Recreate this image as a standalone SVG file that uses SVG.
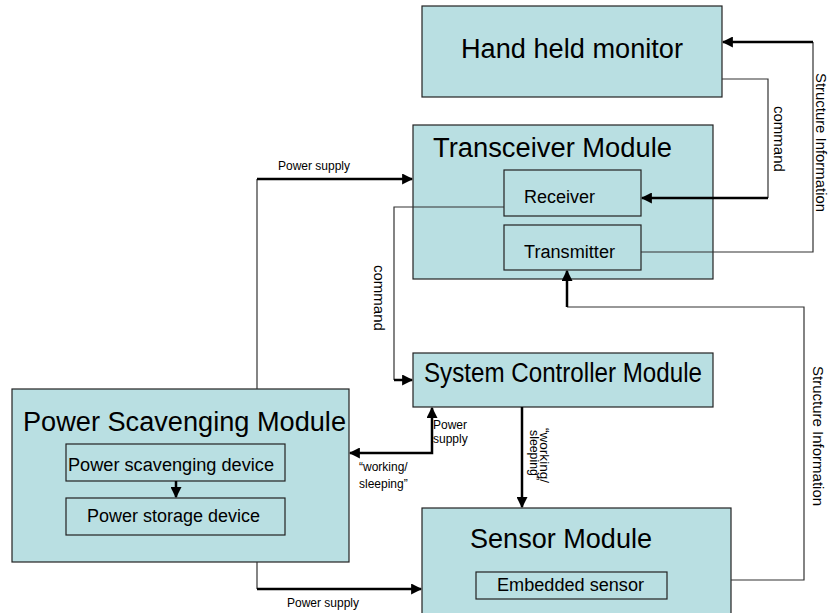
<svg xmlns="http://www.w3.org/2000/svg" width="830" height="613" viewBox="0 0 830 613">
  <style>
    .box { fill: #b9dfe2; stroke: #222; stroke-width: 1.2; }
    .sub { fill: #b9dfe2; stroke: #222; stroke-width: 1.2; }
    .big { font-family: "Liberation Sans", Arial, sans-serif; font-size: 27px; fill: #000; }
    .mid { font-family: "Liberation Sans", Arial, sans-serif; font-size: 18px; fill: #000; }
    .lbl { font-family: "Liberation Sans", Arial, sans-serif; font-size: 12px; fill: #000; }
    .rot { font-family: "Liberation Sans", Arial, sans-serif; font-size: 15px; fill: #000; }
    .thin { fill: none; stroke: #333; stroke-width: 1.2; }
    .thick { fill: none; stroke: #000; stroke-width: 2.5; }
  </style>
  <defs>
    <marker id="arrow" viewBox="0 0 10 10" refX="9" refY="5" markerWidth="4.4" markerHeight="4.4" markerUnits="strokeWidth" orient="auto-start-reverse">
      <path d="M0,0 L10,5 L0,10 z" fill="#000"/>
    </marker>
  </defs>

  <!-- modules -->
  <g id="hand-held-monitor">
    <rect class="box" x="422" y="6" width="300" height="91"/>
    <text class="big" x="461" y="58" textLength="222" lengthAdjust="spacingAndGlyphs">Hand held monitor</text>
  </g>

  <g id="transceiver-module">
    <rect class="box" x="413" y="125" width="300" height="154"/>
    <text class="big" x="433" y="157" textLength="239" lengthAdjust="spacingAndGlyphs">Transceiver Module</text>
  </g>
  <g id="receiver">
    <rect class="sub" x="504" y="170" width="137" height="46"/>
    <text class="mid" x="524" y="203" font-size="17" textLength="71" lengthAdjust="spacingAndGlyphs">Receiver</text>
  </g>
  <g id="transmitter">
    <rect class="sub" x="504" y="225" width="137" height="45"/>
    <text class="mid" x="524" y="258" font-size="17" textLength="91" lengthAdjust="spacingAndGlyphs">Transmitter</text>
  </g>

  <g id="system-controller-module">
    <rect class="box" x="413" y="353" width="300" height="54"/>
    <text class="big" x="424" y="382" font-size="24.5" textLength="278" lengthAdjust="spacingAndGlyphs">System Controller Module</text>
  </g>

  <g id="sensor-module">
    <rect class="box" x="422" y="508" width="309" height="120"/>
    <text class="big" x="470" y="548" textLength="182" lengthAdjust="spacingAndGlyphs">Sensor Module</text>
  </g>
  <g id="embedded-sensor">
    <rect class="sub" x="476" y="572" width="191" height="27"/>
    <text class="mid" x="497" y="591" font-size="17.5" textLength="147" lengthAdjust="spacingAndGlyphs">Embedded sensor</text>
  </g>

  <g id="power-scavenging-module">
    <rect class="box" x="12" y="389" width="337" height="173"/>
    <text class="big" x="23" y="431" textLength="323" lengthAdjust="spacingAndGlyphs">Power Scavenging Module</text>
  </g>
  <g id="power-scavenging-device">
    <rect class="sub" x="66" y="444" width="219" height="37"/>
    <text class="mid" x="68" y="471" textLength="206" lengthAdjust="spacingAndGlyphs">Power scavenging device</text>
  </g>
  <g id="power-storage-device">
    <rect class="sub" x="66" y="498" width="219" height="37"/>
    <text class="mid" x="87" y="522" textLength="173" lengthAdjust="spacingAndGlyphs">Power storage device</text>
  </g>

  <!-- connectors -->
  <g id="connectors">
    <!-- transmitter -> hand held monitor (structure information) -->
    <polyline class="thin" points="641,252 813,252 813,42"/>
    <line class="thick" x1="813" y1="42" x2="723" y2="42" marker-end="url(#arrow)"/>
    <!-- hand held monitor -> receiver (command) -->
    <polyline class="thin" points="722,79 768,79 768,198"/>
    <line class="thick" x1="768" y1="198" x2="642" y2="198" marker-end="url(#arrow)"/>
    <!-- power scavenging -> transceiver (power supply) -->
    <polyline class="thin" points="257,389 257,179"/>
    <line class="thick" x1="257" y1="179" x2="412" y2="179" marker-end="url(#arrow)"/>
    <!-- receiver -> system controller (command) -->
    <polyline class="thin" points="504,207 394,207 394,380"/>
    <line class="thick" x1="394" y1="380" x2="412" y2="380" marker-end="url(#arrow)"/>
    <!-- sensor -> transmitter (structure information) -->
    <polyline class="thin" points="731,580 804,580 804,307 567,307"/>
    <line class="thick" x1="567" y1="307" x2="567" y2="271" marker-end="url(#arrow)"/>
    <!-- system controller -> sensor (working/sleeping) -->
    <line class="thick" x1="522" y1="407" x2="522" y2="507" marker-end="url(#arrow)"/>
    <!-- system controller <-> power scavenging -->
    <polyline class="thick" points="432,408 432,453 350,453" marker-start="url(#arrow)" marker-end="url(#arrow)"/>
    <!-- power scavenging -> sensor (power supply) -->
    <polyline class="thin" points="257,562 257,589"/>
    <line class="thick" x1="257" y1="589" x2="421" y2="589" marker-end="url(#arrow)"/>
    <!-- scavenging device -> storage device -->
    <line class="thick" x1="176" y1="481" x2="176" y2="497" stroke-width="1.8" marker-end="url(#arrow)"/>
  </g>

  <!-- connector labels -->
  <g id="labels">
    <text class="lbl" x="278" y="170">Power supply</text>
    <text class="lbl" x="287" y="607">Power supply</text>
    <text class="lbl" x="433" y="429">Power</text>
    <text class="lbl" x="433" y="443">supply</text>
    <text class="lbl" x="359" y="471" font-size="13.5">“working/</text>
    <text class="lbl" x="359" y="488" font-size="13.5">sleeping”</text>
    <text class="rot" transform="translate(774,106) rotate(90)">command</text>
    <text class="rot" transform="translate(374,265) rotate(90)">command</text>
    <text class="rot" font-size="14.5" transform="translate(816,73) rotate(90)" textLength="139" lengthAdjust="spacingAndGlyphs">Structure Information</text>
    <text class="rot" transform="translate(813,366) rotate(90)">Structure Information</text>
    <text class="lbl" font-size="11" transform="translate(540,428) rotate(90)" textLength="55" lengthAdjust="spacingAndGlyphs">“working/</text>
    <text class="lbl" font-size="11" transform="translate(530,430) rotate(90)" textLength="50" lengthAdjust="spacingAndGlyphs">sleeping”</text>
  </g>
</svg>
